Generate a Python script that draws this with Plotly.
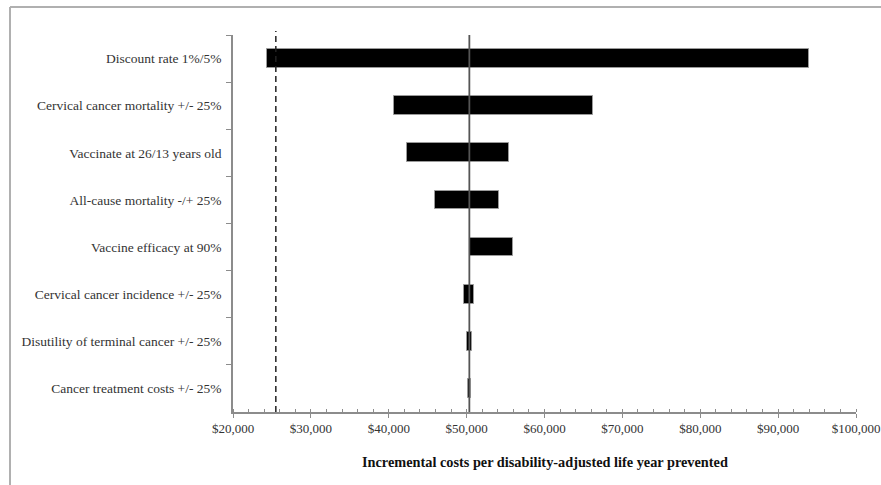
import plotly.graph_objects as go

# ---- data ----
parameters = [
    "Discount rate 1%/5%",
    "Cervical cancer mortality +/- 25%",
    "Vaccinate at 26/13 years old",
    "All-cause mortality -/+ 25%",
    "Vaccine efficacy at 90%",
    "Cervical cancer incidence +/- 25%",
    "Disutility of terminal cancer +/- 25%",
    "Cancer treatment costs +/- 25%",
]
low_values = [24400, 40700, 42300, 45900, 50400, 49700, 50000, 50150]
high_values = [94000, 66200, 55400, 54100, 55900, 51000, 50700, 50500]
base_case = 50350
threshold = 25500
x_tick_values = [20000, 30000, 40000, 50000, 60000, 70000, 80000, 90000, 100000]
x_tick_labels = ["$20,000", "$30,000", "$40,000", "$50,000", "$60,000",
                 "$70,000", "$80,000", "$90,000", "$100,000"]
x_title = "Incremental costs per disability-adjusted life year prevented"

FONT = "Liberation Serif, Times New Roman, serif"
W, H = 881, 485
ML, MR, MT, MB = 233, 25, 35, 73
PW = W - ML - MR
PH = H - MT - MB


def px_x(px):
    return (px - ML) / PW


def px_y(py):
    return (H - MB - py) / PH


fig = go.Figure()
fig.add_trace(go.Bar(
    y=parameters,
    x=[h - l for l, h in zip(low_values, high_values)],
    base=low_values,
    orientation="h",
    width=0.4,
    marker=dict(color="#000000", line=dict(color="#9a9a9a", width=1)),
    hoverinfo="skip",
    showlegend=False,
))
# invisible trace to carry the overlay axis (major ticks drawn inside as well)
fig.add_trace(go.Scatter(x=[x_tick_values[0]], y=[parameters[0]], xaxis="x2",
                         mode="markers", marker=dict(opacity=0), showlegend=False,
                         hoverinfo="skip"))

fig.update_layout(
    width=W, height=H,
    margin=dict(l=ML, r=MR, t=MT, b=MB, autoexpand=False),
    paper_bgcolor="white", plot_bgcolor="white",
    bargap=0,
    font=dict(family=FONT, size=13.5, color="#333333"),
    xaxis=dict(
        range=[20000, 100000], tickvals=x_tick_values, ticktext=x_tick_labels,
        automargin=False,
        showgrid=False, zeroline=False,
        showline=True, linecolor="#8c8c8c", linewidth=1.5,
        ticks="outside", ticklen=4, tickcolor="#8c8c8c", tickwidth=1,
        minor=dict(dtick=2000, ticks="inside", ticklen=3, tickcolor="#8c8c8c", tickwidth=1),
        tickfont=dict(family=FONT, size=13, color="#333333"),
    ),
    xaxis2=dict(
        overlaying="x", matches="x", anchor="y", side="bottom",
        range=[20000, 100000], tickvals=x_tick_values, automargin=False,
        showticklabels=False, showgrid=False, zeroline=False, showline=False,
        ticks="inside", ticklen=3, tickcolor="#8c8c8c", tickwidth=1,
    ),
    yaxis=dict(
        type="category", categoryorder="array", categoryarray=parameters,
        range=[len(parameters) - 0.5, -0.5], automargin=False,
        tickson="boundaries", ticks="outside", ticklen=5, tickcolor="#8c8c8c",
        showline=True, linecolor="#8c8c8c", linewidth=1.5,
        showgrid=False, zeroline=False,
        ticklabelstandoff=7,
        tickfont=dict(family=FONT, size=13.5, color="#333333"),
    ),
    shapes=[
        dict(type="line", xref="x", yref="paper", x0=threshold, x1=threshold,
             y0=0, y1=px_y(31), line=dict(color="#222222", width=1.5, dash="6px,4px")),
        dict(type="line", xref="x", yref="paper", x0=base_case, x1=base_case,
             y0=0, y1=1, line=dict(color="#555555", width=1.8)),
        # outer chart border (cut off at right/bottom as in the original)
        dict(type="line", xref="paper", yref="paper", x0=px_x(10), x1=px_x(10),
             y0=px_y(7), y1=px_y(495), line=dict(color="#b0b0b0", width=2)),
        dict(type="line", xref="paper", yref="paper", x0=px_x(10), x1=px_x(895),
             y0=px_y(7), y1=px_y(7), line=dict(color="#b0b0b0", width=2)),
    ],
    annotations=[
        dict(text="<b>" + x_title + "</b>", xref="paper", yref="paper",
             x=0.5, y=px_y(462), xanchor="center", yanchor="middle",
             showarrow=False, font=dict(family=FONT, size=14.3, color="#111111")),
    ],
)

fig.write_html(
    "out.html",
    config={"displayModeBar": False},
    post_script="document.body.style.margin='0px';document.body.style.padding='0px';"
                "document.body.style.overflow='hidden';",
)
